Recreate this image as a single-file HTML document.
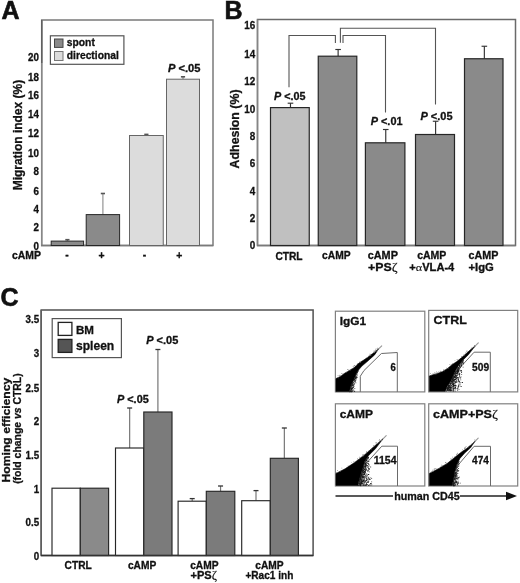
<!DOCTYPE html>
<html><head><meta charset="utf-8"><style>
html,body{margin:0;padding:0;background:#fff;}
svg{display:block;font-family:"Liberation Sans", sans-serif;will-change:transform;}
</style></head><body>
<svg width="520" height="583" viewBox="0 0 520 583">
<defs><filter id="soft" x="-10%" y="-10%" width="120%" height="120%"><feGaussianBlur stdDeviation="0.45"/></filter></defs>
<rect x="0" y="0" width="520" height="583" fill="#fff"/>
<text x="1.5" y="19" font-size="25" font-weight="bold" font-style="normal" text-anchor="start" fill="#111" stroke="#111" stroke-width="0.6" >A</text>
<rect x="41.7" y="20" width="171.3" height="225.5" fill="none" stroke="#7a7a7a" stroke-width="1.5"/>
<rect x="50.4" y="35.8" width="73.5" height="28.5" fill="#fff" stroke="#555" stroke-width="1.2"/>
<rect x="54.5" y="39" width="8.5" height="8.399999999999999" fill="#8a8a8a" stroke="#444" stroke-width="1"/>
<rect x="54.5" y="51.5" width="8.5" height="9.0" fill="#dcdcdc" stroke="#777" stroke-width="1"/>
<text x="66.8" y="46.2" font-size="10.3" font-weight="bold" font-style="normal" text-anchor="start" fill="#111" stroke="#111" stroke-width="0.3" >spont</text>
<text x="66.8" y="58.6" font-size="10.3" font-weight="bold" font-style="normal" text-anchor="start" fill="#111" stroke="#111" stroke-width="0.3" textLength="52" lengthAdjust="spacingAndGlyphs" >directional</text>
<text x="38.9" y="60.67" font-size="10.78" font-weight="bold" font-style="normal" text-anchor="end" fill="#111" stroke="#111" stroke-width="0.3" textLength="10.9" lengthAdjust="spacingAndGlyphs" >20</text>
<text x="38.9" y="81.17" font-size="10.78" font-weight="bold" font-style="normal" text-anchor="end" fill="#111" stroke="#111" stroke-width="0.3" textLength="10.9" lengthAdjust="spacingAndGlyphs" >18</text>
<text x="38.9" y="98.67" font-size="10.78" font-weight="bold" font-style="normal" text-anchor="end" fill="#111" stroke="#111" stroke-width="0.3" textLength="10.9" lengthAdjust="spacingAndGlyphs" >16</text>
<text x="38.9" y="118.07" font-size="10.78" font-weight="bold" font-style="normal" text-anchor="end" fill="#111" stroke="#111" stroke-width="0.3" textLength="10.9" lengthAdjust="spacingAndGlyphs" >14</text>
<text x="38.9" y="137.27" font-size="10.78" font-weight="bold" font-style="normal" text-anchor="end" fill="#111" stroke="#111" stroke-width="0.3" textLength="10.9" lengthAdjust="spacingAndGlyphs" >12</text>
<text x="38.9" y="157.07" font-size="10.78" font-weight="bold" font-style="normal" text-anchor="end" fill="#111" stroke="#111" stroke-width="0.3" textLength="10.9" lengthAdjust="spacingAndGlyphs" >10</text>
<text x="38.9" y="174.67" font-size="10.78" font-weight="bold" font-style="normal" text-anchor="end" fill="#111" stroke="#111" stroke-width="0.3" textLength="5.45" lengthAdjust="spacingAndGlyphs" >8</text>
<text x="38.9" y="194.87" font-size="10.78" font-weight="bold" font-style="normal" text-anchor="end" fill="#111" stroke="#111" stroke-width="0.3" textLength="5.45" lengthAdjust="spacingAndGlyphs" >6</text>
<text x="38.9" y="212.52" font-size="10.78" font-weight="bold" font-style="normal" text-anchor="end" fill="#111" stroke="#111" stroke-width="0.3" textLength="5.45" lengthAdjust="spacingAndGlyphs" >4</text>
<text x="38.9" y="231.27" font-size="10.78" font-weight="bold" font-style="normal" text-anchor="end" fill="#111" stroke="#111" stroke-width="0.3" textLength="5.45" lengthAdjust="spacingAndGlyphs" >2</text>
<text x="38.9" y="249.87" font-size="10.78" font-weight="bold" font-style="normal" text-anchor="end" fill="#111" stroke="#111" stroke-width="0.3" textLength="5.45" lengthAdjust="spacingAndGlyphs" >0</text>
<text transform="translate(21.7,135.1) rotate(-90)" x="0" y="0" font-size="12.8" font-weight="bold" text-anchor="middle" fill="#111" stroke="#111" stroke-width="0.3" textLength="110.5" lengthAdjust="spacingAndGlyphs">Migration index (%)</text>
<line x1="41.7" y1="20" x2="41.7" y2="245.5" stroke="#878787" stroke-width="1.4"/>
<line x1="41.7" y1="20" x2="41.7" y2="63" stroke="#606060" stroke-width="1.4"/>
<line x1="41" y1="245.5" x2="213" y2="245.5" stroke="#7a7a7a" stroke-width="1.4"/>
<line x1="67.4" y1="241.1" x2="67.4" y2="239.7" stroke="#8a8a8a" stroke-width="1.1"/>
<line x1="65.30000000000001" y1="239.7" x2="69.5" y2="239.7" stroke="#555" stroke-width="1.6"/>
<rect x="51.2" y="241.1" width="32.39999999999999" height="4.400000000000006" fill="#8a8a8a" stroke="#262626" stroke-width="1"/>
<line x1="102.9" y1="214.6" x2="102.9" y2="193.5" stroke="#8a8a8a" stroke-width="1.1"/>
<line x1="100.80000000000001" y1="193.5" x2="105.0" y2="193.5" stroke="#555" stroke-width="1.6"/>
<rect x="86.2" y="214.6" width="33.39999999999999" height="30.900000000000006" fill="#8a8a8a" stroke="#262626" stroke-width="1"/>
<line x1="146.375" y1="135.5" x2="146.375" y2="134.4" stroke="#8a8a8a" stroke-width="1.1"/>
<line x1="144.275" y1="134.4" x2="148.475" y2="134.4" stroke="#555" stroke-width="1.6"/>
<rect x="129.5" y="135.5" width="33.75" height="110.0" fill="#dcdcdc" stroke="#666" stroke-width="1"/>
<line x1="183.0" y1="79.2" x2="183.0" y2="76.8" stroke="#8a8a8a" stroke-width="1.1"/>
<line x1="180.9" y1="76.8" x2="185.1" y2="76.8" stroke="#555" stroke-width="1.6"/>
<rect x="166.5" y="79.2" width="33.0" height="166.3" fill="#dcdcdc" stroke="#666" stroke-width="1"/>
<text x="12" y="258.8" font-size="10.4" font-weight="bold" font-style="normal" text-anchor="start" fill="#111" stroke="#111" stroke-width="0.3" textLength="29" lengthAdjust="spacingAndGlyphs" >cAMP</text>
<text x="67.1" y="258.0" font-size="10.4" font-weight="bold" font-style="normal" text-anchor="middle" fill="#111" stroke="#111" stroke-width="0.3" >-</text>
<text x="101.5" y="258.8" font-size="10.4" font-weight="bold" font-style="normal" text-anchor="middle" fill="#111" stroke="#111" stroke-width="0.3" >+</text>
<text x="144.6" y="258.0" font-size="10.4" font-weight="bold" font-style="normal" text-anchor="middle" fill="#111" stroke="#111" stroke-width="0.3" >-</text>
<text x="179.2" y="258.8" font-size="10.4" font-weight="bold" font-style="normal" text-anchor="middle" fill="#111" stroke="#111" stroke-width="0.3" >+</text>
<text x="168" y="71.8" font-size="10.4" font-weight="bold" text-anchor="start" fill="#111" stroke="#111" stroke-width="0.3" textLength="32.5" lengthAdjust="spacingAndGlyphs"><tspan font-style="italic">P</tspan> &lt;.05</text>
<text x="224.5" y="18.75" font-size="25" font-weight="bold" font-style="normal" text-anchor="start" fill="#111" stroke="#111" stroke-width="0.6" >B</text>
<rect x="257.5" y="19.5" width="258.0" height="226.0" fill="none" stroke="#6a6a6a" stroke-width="1.5"/>
<text x="255.2" y="28.81" font-size="10.89" font-weight="bold" font-style="normal" text-anchor="end" fill="#111" stroke="#111" stroke-width="0.3" textLength="11.01" lengthAdjust="spacingAndGlyphs" >16</text>
<text x="255.2" y="57.56" font-size="10.89" font-weight="bold" font-style="normal" text-anchor="end" fill="#111" stroke="#111" stroke-width="0.3" textLength="11.01" lengthAdjust="spacingAndGlyphs" >14</text>
<text x="255.2" y="84.56" font-size="10.89" font-weight="bold" font-style="normal" text-anchor="end" fill="#111" stroke="#111" stroke-width="0.3" textLength="11.01" lengthAdjust="spacingAndGlyphs" >12</text>
<text x="255.2" y="112.51" font-size="10.89" font-weight="bold" font-style="normal" text-anchor="end" fill="#111" stroke="#111" stroke-width="0.3" textLength="11.01" lengthAdjust="spacingAndGlyphs" >10</text>
<text x="255.2" y="139.71" font-size="10.89" font-weight="bold" font-style="normal" text-anchor="end" fill="#111" stroke="#111" stroke-width="0.3" textLength="5.51" lengthAdjust="spacingAndGlyphs" >8</text>
<text x="255.2" y="167.06" font-size="10.89" font-weight="bold" font-style="normal" text-anchor="end" fill="#111" stroke="#111" stroke-width="0.3" textLength="5.51" lengthAdjust="spacingAndGlyphs" >6</text>
<text x="255.2" y="194.56" font-size="10.89" font-weight="bold" font-style="normal" text-anchor="end" fill="#111" stroke="#111" stroke-width="0.3" textLength="5.51" lengthAdjust="spacingAndGlyphs" >4</text>
<text x="255.2" y="221.81" font-size="10.89" font-weight="bold" font-style="normal" text-anchor="end" fill="#111" stroke="#111" stroke-width="0.3" textLength="5.51" lengthAdjust="spacingAndGlyphs" >2</text>
<text x="255.2" y="249.31" font-size="10.89" font-weight="bold" font-style="normal" text-anchor="end" fill="#111" stroke="#111" stroke-width="0.3" textLength="5.51" lengthAdjust="spacingAndGlyphs" >0</text>
<text transform="translate(239.4,128.9) rotate(-90)" x="0" y="0" font-size="13" font-weight="bold" text-anchor="middle" fill="#111" stroke="#111" stroke-width="0.3" textLength="79" lengthAdjust="spacingAndGlyphs">Adhesion (%)</text>
<line x1="257.5" y1="19.5" x2="257.5" y2="245.5" stroke="#858585" stroke-width="1.4"/>
<line x1="257" y1="245.5" x2="515.5" y2="245.5" stroke="#7a7a7a" stroke-width="1.4"/>
<line x1="290.475" y1="107.6" x2="290.475" y2="103.2" stroke="#333" stroke-width="1.15"/>
<line x1="287.675" y1="103.2" x2="293.27500000000003" y2="103.2" stroke="#333" stroke-width="1.15"/>
<rect x="270.5" y="107.6" width="38.75" height="137.9" fill="#c0c0c0" stroke="#262626" stroke-width="1.2"/>
<line x1="338.125" y1="56.2" x2="338.125" y2="49.5" stroke="#333" stroke-width="1.15"/>
<line x1="335.325" y1="49.5" x2="340.925" y2="49.5" stroke="#333" stroke-width="1.15"/>
<rect x="318.25" y="56.2" width="38.55000000000001" height="189.3" fill="#8a8a8a" stroke="#262626" stroke-width="1.2"/>
<line x1="385.75" y1="142.8" x2="385.75" y2="129.5" stroke="#333" stroke-width="1.15"/>
<line x1="382.95" y1="129.5" x2="388.55" y2="129.5" stroke="#333" stroke-width="1.15"/>
<rect x="365.4" y="142.8" width="39.5" height="102.69999999999999" fill="#8a8a8a" stroke="#262626" stroke-width="1.2"/>
<line x1="435.6" y1="134.5" x2="435.6" y2="121.25" stroke="#333" stroke-width="1.15"/>
<line x1="432.8" y1="121.25" x2="438.40000000000003" y2="121.25" stroke="#333" stroke-width="1.15"/>
<rect x="415.5" y="134.5" width="39.0" height="111.0" fill="#8a8a8a" stroke="#262626" stroke-width="1.2"/>
<line x1="484.35" y1="58.75" x2="484.35" y2="46.25" stroke="#333" stroke-width="1.15"/>
<line x1="481.55" y1="46.25" x2="487.15000000000003" y2="46.25" stroke="#333" stroke-width="1.15"/>
<rect x="464.5" y="58.75" width="38.5" height="186.75" fill="#8a8a8a" stroke="#262626" stroke-width="1.2"/>
<polyline points="289,87.3 289,35.5 335.4,35.5 335.4,43" fill="none" stroke="#555" stroke-width="1.1"/>
<polyline points="343,43 343,35.5 385.5,35.5 385.5,112.5" fill="none" stroke="#555" stroke-width="1.1"/>
<polyline points="340.4,42.8 340.4,28.2 435.5,28.2 435.5,104.5" fill="none" stroke="#555" stroke-width="1.1"/>
<text x="274" y="99.7" font-size="10.4" font-weight="bold" text-anchor="start" fill="#111" stroke="#111" stroke-width="0.3" textLength="31.4" lengthAdjust="spacingAndGlyphs"><tspan font-style="italic">P</tspan> &lt;.05</text>
<text x="370.75" y="125" font-size="10.4" font-weight="bold" text-anchor="start" fill="#111" stroke="#111" stroke-width="0.3" textLength="31.75" lengthAdjust="spacingAndGlyphs"><tspan font-style="italic">P</tspan> &lt;.01</text>
<text x="420.5" y="119.5" font-size="10.4" font-weight="bold" text-anchor="start" fill="#111" stroke="#111" stroke-width="0.3" textLength="32" lengthAdjust="spacingAndGlyphs"><tspan font-style="italic">P</tspan> &lt;.05</text>
<text x="289" y="260" font-size="10.2" font-weight="bold" font-style="normal" text-anchor="middle" fill="#111" stroke="#111" stroke-width="0.3" >CTRL</text>
<text x="336.3" y="259" font-size="10.2" font-weight="bold" font-style="normal" text-anchor="middle" fill="#111" stroke="#111" stroke-width="0.3" textLength="28.5" lengthAdjust="spacingAndGlyphs" >cAMP</text>
<text x="382.8" y="258.6" font-size="10.2" font-weight="bold" font-style="normal" text-anchor="middle" fill="#111" stroke="#111" stroke-width="0.3" textLength="30.2" lengthAdjust="spacingAndGlyphs" >cAMP</text>
<text x="382.8" y="270.7" font-size="10.2" font-weight="bold" font-style="normal" text-anchor="middle" fill="#111" stroke="#111" stroke-width="0.3" textLength="29.5" lengthAdjust="spacingAndGlyphs" >+PS<tspan font-family="Liberation Serif" font-weight="normal" stroke-width="0.12" font-size="1.15em">ζ</tspan></text>
<text x="431.8" y="258.6" font-size="10.2" font-weight="bold" font-style="normal" text-anchor="middle" fill="#111" stroke="#111" stroke-width="0.3" textLength="29.2" lengthAdjust="spacingAndGlyphs" >cAMP</text>
<text x="431.8" y="270.7" font-size="10.2" font-weight="bold" font-style="normal" text-anchor="middle" fill="#111" stroke="#111" stroke-width="0.3" textLength="45" lengthAdjust="spacingAndGlyphs" >+<tspan font-family="Liberation Serif" font-weight="normal" stroke-width="0.12" font-size="1.1em">α</tspan>VLA-4</text>
<text x="483.5" y="258.6" font-size="10.2" font-weight="bold" font-style="normal" text-anchor="middle" fill="#111" stroke="#111" stroke-width="0.3" textLength="29.8" lengthAdjust="spacingAndGlyphs" >cAMP</text>
<text x="481.2" y="270.7" font-size="10.2" font-weight="bold" font-style="normal" text-anchor="middle" fill="#111" stroke="#111" stroke-width="0.3" textLength="25.3" lengthAdjust="spacingAndGlyphs" >+IgG</text>
<text x="0.5" y="306.25" font-size="25" font-weight="bold" font-style="normal" text-anchor="start" fill="#111" stroke="#111" stroke-width="0.6" >C</text>
<rect x="41.2" y="310" width="271.90000000000003" height="245.5" fill="none" stroke="#505050" stroke-width="1.5"/>
<text x="39.1" y="323.27" font-size="10.78" font-weight="bold" font-style="normal" text-anchor="end" fill="#111" stroke="#111" stroke-width="0.3" textLength="13.62" lengthAdjust="spacingAndGlyphs" >3.5</text>
<text x="39.1" y="356.77" font-size="10.78" font-weight="bold" font-style="normal" text-anchor="end" fill="#111" stroke="#111" stroke-width="0.3" textLength="5.45" lengthAdjust="spacingAndGlyphs" >3</text>
<text x="39.1" y="391.77" font-size="10.78" font-weight="bold" font-style="normal" text-anchor="end" fill="#111" stroke="#111" stroke-width="0.3" textLength="13.62" lengthAdjust="spacingAndGlyphs" >2.5</text>
<text x="39.1" y="425.02" font-size="10.78" font-weight="bold" font-style="normal" text-anchor="end" fill="#111" stroke="#111" stroke-width="0.3" textLength="5.45" lengthAdjust="spacingAndGlyphs" >2</text>
<text x="39.1" y="458.77" font-size="10.78" font-weight="bold" font-style="normal" text-anchor="end" fill="#111" stroke="#111" stroke-width="0.3" textLength="13.62" lengthAdjust="spacingAndGlyphs" >1.5</text>
<text x="39.1" y="492.52" font-size="10.78" font-weight="bold" font-style="normal" text-anchor="end" fill="#111" stroke="#111" stroke-width="0.3" textLength="5.45" lengthAdjust="spacingAndGlyphs" >1</text>
<text x="39.1" y="526.27" font-size="10.78" font-weight="bold" font-style="normal" text-anchor="end" fill="#111" stroke="#111" stroke-width="0.3" textLength="13.62" lengthAdjust="spacingAndGlyphs" >0.5</text>
<text x="39.1" y="559.77" font-size="10.78" font-weight="bold" font-style="normal" text-anchor="end" fill="#111" stroke="#111" stroke-width="0.3" textLength="5.45" lengthAdjust="spacingAndGlyphs" >0</text>
<text transform="translate(10.4,430.1) rotate(-90)" x="0" y="0" font-size="11.8" font-weight="bold" text-anchor="middle" fill="#111" stroke="#111" stroke-width="0.3" textLength="104.7" lengthAdjust="spacingAndGlyphs">Homing efficiency</text>
<text transform="translate(21,428.6) rotate(-90)" x="0" y="0" font-size="10.4" font-weight="bold" text-anchor="middle" fill="#111" stroke="#111" stroke-width="0.3" textLength="110.5" lengthAdjust="spacingAndGlyphs">(fold change <tspan font-style="italic">vs</tspan> CTRL)</text>
<rect x="52.2" y="318.6" width="69.2" height="39.0" fill="#fff" stroke="#555" stroke-width="1.2"/>
<rect x="58.2" y="322.4" width="13.700000000000003" height="13.0" fill="#fff" stroke="#222" stroke-width="1.3"/>
<rect x="58.2" y="339.4" width="13.700000000000003" height="13.0" fill="#555" stroke="#222" stroke-width="1.3"/>
<text x="76" y="333.8" font-size="11.5" font-weight="bold" font-style="normal" text-anchor="start" fill="#111" stroke="#111" stroke-width="0.3" textLength="18" lengthAdjust="spacingAndGlyphs" >BM</text>
<text x="76" y="350.4" font-size="12" font-weight="bold" font-style="normal" text-anchor="start" fill="#111" stroke="#111" stroke-width="0.3" textLength="38.2" lengthAdjust="spacingAndGlyphs" >spleen</text>
<rect x="52" y="488.2" width="28.299999999999997" height="67.30000000000001" fill="#ffffff" stroke="#262626" stroke-width="1.15"/>
<rect x="80.3" y="488.2" width="28.299999999999997" height="67.30000000000001" fill="#8a8a8a" stroke="#262626" stroke-width="1.15"/>
<line x1="129.65" y1="448" x2="129.65" y2="408" stroke="#777" stroke-width="1.2"/>
<line x1="127.15" y1="408" x2="132.15" y2="408" stroke="#333" stroke-width="1.3"/>
<rect x="115.5" y="448" width="28.30000000000001" height="107.5" fill="#ffffff" stroke="#262626" stroke-width="1.15"/>
<line x1="157.9" y1="412" x2="157.9" y2="349.5" stroke="#777" stroke-width="1.2"/>
<line x1="155.4" y1="349.5" x2="160.4" y2="349.5" stroke="#333" stroke-width="1.3"/>
<rect x="143.8" y="412" width="28.19999999999999" height="143.5" fill="#7b7b7b" stroke="#262626" stroke-width="1.15"/>
<line x1="192.2" y1="501.2" x2="192.2" y2="498.6" stroke="#777" stroke-width="1.2"/>
<line x1="189.7" y1="498.6" x2="194.7" y2="498.6" stroke="#333" stroke-width="1.3"/>
<rect x="178.1" y="501.2" width="28.200000000000017" height="54.30000000000001" fill="#ffffff" stroke="#262626" stroke-width="1.15"/>
<line x1="220.55" y1="491.3" x2="220.55" y2="486" stroke="#777" stroke-width="1.2"/>
<line x1="218.05" y1="486" x2="223.05" y2="486" stroke="#333" stroke-width="1.3"/>
<rect x="206.3" y="491.3" width="28.5" height="64.19999999999999" fill="#7b7b7b" stroke="#262626" stroke-width="1.15"/>
<line x1="256.0" y1="500.7" x2="256.0" y2="490.6" stroke="#777" stroke-width="1.2"/>
<line x1="253.5" y1="490.6" x2="258.5" y2="490.6" stroke="#333" stroke-width="1.3"/>
<rect x="241.7" y="500.7" width="28.600000000000023" height="54.80000000000001" fill="#ffffff" stroke="#262626" stroke-width="1.15"/>
<line x1="284.35" y1="458.3" x2="284.35" y2="428" stroke="#777" stroke-width="1.2"/>
<line x1="281.85" y1="428" x2="286.85" y2="428" stroke="#333" stroke-width="1.3"/>
<rect x="270.3" y="458.3" width="28.099999999999966" height="97.19999999999999" fill="#7b7b7b" stroke="#262626" stroke-width="1.15"/>
<line x1="41.2" y1="310" x2="41.2" y2="555.5" stroke="#606060" stroke-width="1.5"/>
<line x1="41" y1="555.5" x2="313.1" y2="555.5" stroke="#333" stroke-width="1.5"/>
<text x="117" y="402.5" font-size="10.4" font-weight="bold" text-anchor="start" fill="#111" stroke="#111" stroke-width="0.3" textLength="31.75" lengthAdjust="spacingAndGlyphs"><tspan font-style="italic">P</tspan> &lt;.05</text>
<text x="146.25" y="344.25" font-size="10.4" font-weight="bold" text-anchor="start" fill="#111" stroke="#111" stroke-width="0.3" textLength="32" lengthAdjust="spacingAndGlyphs"><tspan font-style="italic">P</tspan> &lt;.05</text>
<text x="78.2" y="569.3" font-size="10.2" font-weight="bold" font-style="normal" text-anchor="middle" fill="#111" stroke="#111" stroke-width="0.3" >CTRL</text>
<text x="142.1" y="569.1" font-size="10.2" font-weight="bold" font-style="normal" text-anchor="middle" fill="#111" stroke="#111" stroke-width="0.3" >cAMP</text>
<text x="204.3" y="568.6" font-size="10.2" font-weight="bold" font-style="normal" text-anchor="middle" fill="#111" stroke="#111" stroke-width="0.3" >cAMP</text>
<text x="203.7" y="579.3" font-size="10.2" font-weight="bold" font-style="normal" text-anchor="middle" fill="#111" stroke="#111" stroke-width="0.3" textLength="26.5" lengthAdjust="spacingAndGlyphs" >+PS<tspan font-family="Liberation Serif" font-weight="normal" stroke-width="0.12" font-size="1.15em">ζ</tspan></text>
<text x="269.4" y="568.6" font-size="10.2" font-weight="bold" font-style="normal" text-anchor="middle" fill="#111" stroke="#111" stroke-width="0.3" >cAMP</text>
<text x="269.4" y="579.3" font-size="10.2" font-weight="bold" font-style="normal" text-anchor="middle" fill="#111" stroke="#111" stroke-width="0.3" textLength="48" lengthAdjust="spacingAndGlyphs" >+Rac1 inh</text>
<rect x="335.4" y="311.2" width="89.40000000000003" height="80.69999999999999" fill="#fff" stroke="#808080" stroke-width="1.2"/>
<text x="339.7" y="324.5" font-size="11.2" font-weight="bold" font-style="normal" text-anchor="start" fill="#111" stroke="#111" stroke-width="0.3" textLength="26.4" lengthAdjust="spacingAndGlyphs" >IgG1</text>
<polyline points="360.3,391.9 360.3,376.2 364,370.5 381.4,353.5 397.3,352.5 397.3,391.9" fill="none" stroke="#6a6a6a" stroke-width="1"/>
<polygon points="336.0,391.6 336.0,378.6 340.8,376.2 344.6,373.3 349.4,370.4 354.2,367.6 359.0,363.0 363.8,360.0 368.7,356.6 374.4,352.3 378.5,349.0 374.6,354.9 366.7,362.0 361.9,366.1 358.1,370.5 355.7,375.0 353.8,380.0 351.3,384.8 349.4,391.6" fill="#050505" stroke="#050505" stroke-width="0.6" stroke-linejoin="round" filter="url(#soft)"/>
<path d="M357.9 370.5h0.8v0.8h-0.8zM357.7 370.3h0.8v0.8h-0.8zM357.3 370.8h0.8v0.8h-0.8zM357.7 370.9h0.8v0.8h-0.8zM357.0 372.1h0.8v0.8h-0.8zM356.9 371.8h0.8v0.8h-0.8zM356.6 372.6h0.8v0.8h-0.8zM356.5 372.6h0.8v0.8h-0.8zM356.9 373.8h0.8v0.8h-0.8zM355.8 374.6h0.8v0.8h-0.8zM355.9 374.0h0.8v0.8h-0.8zM356.9 375.4h0.8v0.8h-0.8zM355.2 374.9h0.8v0.8h-0.8zM355.4 375.4h0.8v0.8h-0.8zM355.2 375.9h0.8v0.8h-0.8zM356.0 376.3h0.8v0.8h-0.8zM355.3 375.8h0.8v0.8h-0.8zM355.3 376.7h0.8v0.8h-0.8zM356.7 377.1h0.8v0.8h-0.8zM355.8 376.9h0.8v0.8h-0.8zM354.4 377.4h0.8v0.8h-0.8zM354.7 377.2h0.8v0.8h-0.8zM354.2 377.3h0.8v0.8h-0.8zM355.4 377.9h0.8v0.8h-0.8zM356.3 377.4h0.8v0.8h-0.8zM355.4 377.3h0.8v0.8h-0.8zM354.5 377.5h0.8v0.8h-0.8zM354.5 378.8h0.8v0.8h-0.8zM355.8 378.4h0.8v0.8h-0.8zM354.0 378.8h0.8v0.8h-0.8zM354.8 378.1h0.8v0.8h-0.8zM353.7 379.0h0.8v0.8h-0.8zM354.4 379.0h0.8v0.8h-0.8zM354.4 379.5h0.8v0.8h-0.8zM353.9 379.5h0.8v0.8h-0.8zM355.2 380.2h0.8v0.8h-0.8zM353.8 380.3h0.8v0.8h-0.8zM355.5 379.6h0.8v0.8h-0.8zM353.9 380.6h0.8v0.8h-0.8zM354.7 381.1h0.8v0.8h-0.8zM354.4 380.9h0.8v0.8h-0.8zM352.9 380.5h0.8v0.8h-0.8zM352.9 380.5h0.8v0.8h-0.8zM355.0 381.4h0.8v0.8h-0.8zM352.6 382.1h0.8v0.8h-0.8zM353.2 382.5h0.8v0.8h-0.8zM352.8 382.5h0.8v0.8h-0.8zM353.6 382.3h0.8v0.8h-0.8zM355.5 382.4h0.8v0.8h-0.8zM353.8 383.1h0.8v0.8h-0.8zM352.1 382.8h0.8v0.8h-0.8zM352.3 383.5h0.8v0.8h-0.8zM352.1 383.4h0.8v0.8h-0.8zM353.7 383.6h0.8v0.8h-0.8zM353.6 384.0h0.8v0.8h-0.8zM351.9 383.8h0.8v0.8h-0.8zM351.8 383.6h0.8v0.8h-0.8zM352.3 383.8h0.8v0.8h-0.8zM353.8 383.9h0.8v0.8h-0.8zM351.3 383.6h0.8v0.8h-0.8zM352.2 384.3h0.8v0.8h-0.8zM352.7 384.5h0.8v0.8h-0.8zM351.2 384.6h0.8v0.8h-0.8zM351.7 385.1h0.8v0.8h-0.8zM352.3 384.6h0.8v0.8h-0.8zM353.3 384.8h0.8v0.8h-0.8zM352.5 384.4h0.8v0.8h-0.8zM353.5 384.8h0.8v0.8h-0.8zM350.8 384.5h0.8v0.8h-0.8zM352.8 385.2h0.8v0.8h-0.8zM352.3 385.7h0.8v0.8h-0.8zM351.4 385.7h0.8v0.8h-0.8zM350.8 385.9h0.8v0.8h-0.8zM350.8 385.5h0.8v0.8h-0.8zM353.2 386.6h0.8v0.8h-0.8zM350.7 386.2h0.8v0.8h-0.8zM350.8 386.6h0.8v0.8h-0.8zM350.8 386.2h0.8v0.8h-0.8zM353.6 386.0h0.8v0.8h-0.8zM351.9 387.2h0.8v0.8h-0.8zM352.9 387.5h0.8v0.8h-0.8zM351.7 387.6h0.8v0.8h-0.8zM351.4 386.9h0.8v0.8h-0.8zM350.3 387.2h0.8v0.8h-0.8zM352.8 386.9h0.8v0.8h-0.8zM352.2 387.5h0.8v0.8h-0.8zM349.9 388.3h0.8v0.8h-0.8zM351.7 387.9h0.8v0.8h-0.8zM352.1 387.8h0.8v0.8h-0.8zM350.2 388.3h0.8v0.8h-0.8zM351.4 388.0h0.8v0.8h-0.8zM351.1 388.4h0.8v0.8h-0.8zM354.4 388.2h0.8v0.8h-0.8zM350.7 387.9h0.8v0.8h-0.8zM350.7 388.6h0.8v0.8h-0.8zM350.6 388.5h0.8v0.8h-0.8zM351.9 388.6h0.8v0.8h-0.8zM351.3 389.1h0.8v0.8h-0.8zM352.1 388.4h0.8v0.8h-0.8zM350.5 388.9h0.8v0.8h-0.8zM351.4 388.7h0.8v0.8h-0.8zM349.6 389.8h0.8v0.8h-0.8zM353.3 389.5h0.8v0.8h-0.8zM351.1 389.3h0.8v0.8h-0.8zM349.7 389.4h0.8v0.8h-0.8zM351.4 389.4h0.8v0.8h-0.8zM350.2 389.6h0.8v0.8h-0.8zM350.9 389.2h0.8v0.8h-0.8zM351.4 390.0h0.8v0.8h-0.8zM352.4 390.2h0.8v0.8h-0.8zM351.3 390.4h0.8v0.8h-0.8zM349.5 390.3h0.8v0.8h-0.8zM352.6 390.8h0.8v0.8h-0.8zM350.8 390.6h0.8v0.8h-0.8zM352.6 390.2h0.8v0.8h-0.8zM351.9 390.8h0.8v0.8h-0.8zM350.2 390.0h0.8v0.8h-0.8zM351.3 391.5h0.8v0.8h-0.8zM354.2 391.3h0.8v0.8h-0.8zM351.6 391.1h0.8v0.8h-0.8zM350.2 391.0h0.8v0.8h-0.8zM350.4 391.5h0.8v0.8h-0.8zM349.4 391.1h0.8v0.8h-0.8zM349.2 391.4h0.8v0.8h-0.8zM354.3 390.8h0.8v0.8h-0.8z" fill="#1a1a1a"/>
<line x1="377.5" y1="350.0" x2="381.7" y2="345.8" stroke="#555" stroke-width="1.1" stroke-linecap="round" opacity="0.6"/>
<path d="M359.5 360.9h0.7v0.7h-0.7zM360.1 362.3h0.7v0.7h-0.7zM374.7 350.1h0.7v0.7h-0.7zM348.0 369.8h0.7v0.7h-0.7zM375.3 351.0h0.7v0.7h-0.7zM341.0 373.3h0.7v0.7h-0.7zM337.7 375.0h0.7v0.7h-0.7zM370.6 354.8h0.7v0.7h-0.7zM375.5 349.0h0.7v0.7h-0.7zM347.2 369.1h0.7v0.7h-0.7zM373.5 350.8h0.7v0.7h-0.7zM342.3 374.1h0.7v0.7h-0.7zM374.1 352.0h0.7v0.7h-0.7zM367.2 357.3h0.7v0.7h-0.7zM347.3 371.3h0.7v0.7h-0.7zM337.8 377.6h0.7v0.7h-0.7zM376.1 350.9h0.7v0.7h-0.7zM353.5 365.9h0.7v0.7h-0.7zM369.9 354.4h0.7v0.7h-0.7zM357.3 363.3h0.7v0.7h-0.7zM371.9 353.0h0.7v0.7h-0.7zM349.9 369.8h0.7v0.7h-0.7zM352.5 368.3h0.7v0.7h-0.7zM377.4 347.7h0.7v0.7h-0.7zM353.8 365.2h0.7v0.7h-0.7zM369.6 353.7h0.7v0.7h-0.7zM339.2 375.0h0.7v0.7h-0.7zM368.7 355.6h0.7v0.7h-0.7zM354.5 365.3h0.7v0.7h-0.7zM347.5 369.1h0.7v0.7h-0.7zM375.7 348.5h0.7v0.7h-0.7zM356.2 364.8h0.7v0.7h-0.7zM340.3 375.4h0.7v0.7h-0.7zM377.1 350.0h0.7v0.7h-0.7zM373.0 351.9h0.7v0.7h-0.7zM339.6 374.7h0.7v0.7h-0.7zM369.9 355.1h0.7v0.7h-0.7zM345.9 372.4h0.7v0.7h-0.7zM342.6 373.2h0.7v0.7h-0.7zM352.7 366.4h0.7v0.7h-0.7zM377.9 348.5h0.7v0.7h-0.7zM373.8 352.4h0.7v0.7h-0.7zM374.4 351.2h0.7v0.7h-0.7zM377.6 348.6h0.7v0.7h-0.7zM375.3 350.4h0.7v0.7h-0.7z" fill="#777"/>
<text x="395.9" y="371" font-size="10.6" font-weight="bold" font-style="normal" text-anchor="end" fill="#111" stroke="#111" stroke-width="0.3" textLength="5.3" lengthAdjust="spacingAndGlyphs" >6</text>
<rect x="428.7" y="310.4" width="89.00000000000006" height="81.5" fill="#fff" stroke="#808080" stroke-width="1.2"/>
<text x="433.6" y="323.7" font-size="11.2" font-weight="bold" font-style="normal" text-anchor="start" fill="#111" stroke="#111" stroke-width="0.3" textLength="33.2" lengthAdjust="spacingAndGlyphs" >CTRL</text>
<polyline points="453.3,391.9 453.3,375 474.1,352.2 490.3,352.2 490.3,391.9" fill="none" stroke="#6a6a6a" stroke-width="1"/>
<polygon points="429.4,391.3 429.4,375.9 433.8,374.4 437.6,373.5 442.4,371.6 447.2,368.7 452.0,364.8 456.8,361.5 461.7,357.6 466.5,353.3 471.3,349.0 475.1,346.1 468.4,354.7 463.6,359.5 458.8,365.2 455.9,370.0 453.5,374.9 451.1,380.7 447.2,386.5 445.3,391.3" fill="#050505" stroke="#050505" stroke-width="0.6" stroke-linejoin="round" filter="url(#soft)"/>
<path d="M462.6 360.1h0.8v0.8h-0.8zM462.8 360.4h0.8v0.8h-0.8zM462.9 359.8h0.8v0.8h-0.8zM462.1 361.0h0.8v0.8h-0.8zM463.0 360.7h0.8v0.8h-0.8zM461.8 361.9h0.8v0.8h-0.8zM461.4 361.6h0.8v0.8h-0.8zM462.6 362.0h0.8v0.8h-0.8zM462.0 362.0h0.8v0.8h-0.8zM462.3 361.6h0.8v0.8h-0.8zM462.6 362.5h0.8v0.8h-0.8zM461.0 362.8h0.8v0.8h-0.8zM463.1 362.8h0.8v0.8h-0.8zM462.4 362.9h0.8v0.8h-0.8zM461.3 362.2h0.8v0.8h-0.8zM460.0 363.5h0.8v0.8h-0.8zM460.7 363.4h0.8v0.8h-0.8zM462.7 363.6h0.8v0.8h-0.8zM462.7 363.0h0.8v0.8h-0.8zM461.0 363.2h0.8v0.8h-0.8zM460.4 363.6h0.8v0.8h-0.8zM460.5 363.5h0.8v0.8h-0.8zM460.8 364.0h0.8v0.8h-0.8zM459.5 364.5h0.8v0.8h-0.8zM459.5 364.1h0.8v0.8h-0.8zM458.7 365.3h0.8v0.8h-0.8zM458.7 364.7h0.8v0.8h-0.8zM459.2 365.3h0.8v0.8h-0.8zM461.1 364.9h0.8v0.8h-0.8zM461.2 364.6h0.8v0.8h-0.8zM459.2 364.8h0.8v0.8h-0.8zM459.6 365.4h0.8v0.8h-0.8zM460.6 365.5h0.8v0.8h-0.8zM459.2 365.6h0.8v0.8h-0.8zM461.2 365.6h0.8v0.8h-0.8zM458.9 366.0h0.8v0.8h-0.8zM460.4 365.6h0.8v0.8h-0.8zM458.2 366.9h0.8v0.8h-0.8zM459.5 366.6h0.8v0.8h-0.8zM462.7 366.7h0.8v0.8h-0.8zM459.3 366.5h0.8v0.8h-0.8zM459.5 367.5h0.8v0.8h-0.8zM459.9 367.1h0.8v0.8h-0.8zM458.0 367.4h0.8v0.8h-0.8zM458.3 367.6h0.8v0.8h-0.8zM457.1 367.4h0.8v0.8h-0.8zM459.5 367.4h0.8v0.8h-0.8zM457.7 367.2h0.8v0.8h-0.8zM459.4 367.9h0.8v0.8h-0.8zM457.8 368.2h0.8v0.8h-0.8zM456.8 368.3h0.8v0.8h-0.8zM456.6 368.4h0.8v0.8h-0.8zM457.9 368.1h0.8v0.8h-0.8zM457.0 369.1h0.8v0.8h-0.8zM456.8 368.6h0.8v0.8h-0.8zM456.5 369.1h0.8v0.8h-0.8zM458.7 368.7h0.8v0.8h-0.8zM457.9 369.2h0.8v0.8h-0.8zM457.3 370.0h0.8v0.8h-0.8zM457.5 369.6h0.8v0.8h-0.8zM456.5 369.6h0.8v0.8h-0.8zM458.7 369.4h0.8v0.8h-0.8zM457.5 369.5h0.8v0.8h-0.8zM457.4 369.8h0.8v0.8h-0.8zM458.2 369.9h0.8v0.8h-0.8zM456.3 370.0h0.8v0.8h-0.8zM456.6 370.0h0.8v0.8h-0.8zM459.5 369.7h0.8v0.8h-0.8zM456.6 369.5h0.8v0.8h-0.8zM458.4 369.8h0.8v0.8h-0.8zM456.2 370.5h0.8v0.8h-0.8zM458.3 370.2h0.8v0.8h-0.8zM460.6 370.5h0.8v0.8h-0.8zM457.6 370.3h0.8v0.8h-0.8zM457.0 370.7h0.8v0.8h-0.8zM457.5 370.8h0.8v0.8h-0.8zM457.4 370.6h0.8v0.8h-0.8zM460.3 370.2h0.8v0.8h-0.8zM461.0 370.1h0.8v0.8h-0.8zM456.5 370.3h0.8v0.8h-0.8zM458.3 370.3h0.8v0.8h-0.8zM460.4 370.8h0.8v0.8h-0.8zM456.9 371.4h0.8v0.8h-0.8zM457.7 371.6h0.8v0.8h-0.8zM455.1 371.4h0.8v0.8h-0.8zM455.2 371.0h0.8v0.8h-0.8zM455.5 371.2h0.8v0.8h-0.8zM457.2 371.7h0.8v0.8h-0.8zM458.6 371.5h0.8v0.8h-0.8zM461.3 371.5h0.8v0.8h-0.8zM456.9 371.2h0.8v0.8h-0.8zM458.3 371.1h0.8v0.8h-0.8zM455.9 371.4h0.8v0.8h-0.8zM456.8 371.3h0.8v0.8h-0.8zM457.5 372.4h0.8v0.8h-0.8zM455.6 372.0h0.8v0.8h-0.8zM457.0 371.9h0.8v0.8h-0.8zM454.9 371.9h0.8v0.8h-0.8zM455.4 372.1h0.8v0.8h-0.8zM457.6 371.8h0.8v0.8h-0.8zM461.1 372.3h0.8v0.8h-0.8zM455.3 372.0h0.8v0.8h-0.8zM456.1 371.7h0.8v0.8h-0.8zM456.6 371.7h0.8v0.8h-0.8zM457.0 372.2h0.8v0.8h-0.8zM457.0 373.2h0.8v0.8h-0.8zM457.0 372.9h0.8v0.8h-0.8zM456.2 373.0h0.8v0.8h-0.8zM458.6 372.7h0.8v0.8h-0.8zM459.4 373.1h0.8v0.8h-0.8zM455.5 373.3h0.8v0.8h-0.8zM454.8 372.9h0.8v0.8h-0.8zM454.0 373.2h0.8v0.8h-0.8zM457.1 373.0h0.8v0.8h-0.8zM455.5 372.9h0.8v0.8h-0.8zM455.8 372.8h0.8v0.8h-0.8zM454.5 373.0h0.8v0.8h-0.8zM453.9 373.8h0.8v0.8h-0.8zM457.9 373.8h0.8v0.8h-0.8zM454.7 374.0h0.8v0.8h-0.8zM458.9 374.0h0.8v0.8h-0.8zM456.1 373.7h0.8v0.8h-0.8zM456.0 373.7h0.8v0.8h-0.8zM455.8 373.4h0.8v0.8h-0.8zM454.4 373.4h0.8v0.8h-0.8zM457.4 374.1h0.8v0.8h-0.8zM454.1 373.6h0.8v0.8h-0.8zM453.7 373.5h0.8v0.8h-0.8zM453.6 374.2h0.8v0.8h-0.8zM455.1 374.8h0.8v0.8h-0.8zM459.1 374.1h0.8v0.8h-0.8zM455.1 374.3h0.8v0.8h-0.8zM453.3 374.2h0.8v0.8h-0.8zM461.3 374.2h0.8v0.8h-0.8zM459.4 374.4h0.8v0.8h-0.8zM459.1 374.2h0.8v0.8h-0.8zM456.5 375.4h0.8v0.8h-0.8zM456.3 375.3h0.8v0.8h-0.8zM454.4 375.1h0.8v0.8h-0.8zM455.7 375.1h0.8v0.8h-0.8zM453.2 375.5h0.8v0.8h-0.8zM456.6 375.5h0.8v0.8h-0.8zM457.1 375.2h0.8v0.8h-0.8zM455.4 375.2h0.8v0.8h-0.8zM454.3 375.6h0.8v0.8h-0.8zM454.6 375.1h0.8v0.8h-0.8zM458.9 375.0h0.8v0.8h-0.8zM453.2 376.4h0.8v0.8h-0.8zM455.5 375.7h0.8v0.8h-0.8zM454.3 376.3h0.8v0.8h-0.8zM454.9 375.9h0.8v0.8h-0.8zM459.0 376.3h0.8v0.8h-0.8zM454.0 376.1h0.8v0.8h-0.8zM453.1 375.7h0.8v0.8h-0.8zM455.3 375.7h0.8v0.8h-0.8zM456.1 375.8h0.8v0.8h-0.8zM453.5 376.0h0.8v0.8h-0.8zM457.2 376.9h0.8v0.8h-0.8zM452.3 377.0h0.8v0.8h-0.8zM460.6 376.5h0.8v0.8h-0.8zM453.7 376.9h0.8v0.8h-0.8zM458.4 377.3h0.8v0.8h-0.8zM456.3 376.6h0.8v0.8h-0.8zM454.0 377.1h0.8v0.8h-0.8zM457.3 377.2h0.8v0.8h-0.8zM453.4 376.6h0.8v0.8h-0.8zM455.0 376.8h0.8v0.8h-0.8zM454.8 377.1h0.8v0.8h-0.8zM458.5 377.2h0.8v0.8h-0.8zM455.3 376.9h0.8v0.8h-0.8zM452.1 378.1h0.8v0.8h-0.8zM452.0 377.4h0.8v0.8h-0.8zM460.3 377.4h0.8v0.8h-0.8zM459.7 377.6h0.8v0.8h-0.8zM452.2 377.9h0.8v0.8h-0.8zM459.8 377.7h0.8v0.8h-0.8zM454.5 377.4h0.8v0.8h-0.8zM453.2 377.4h0.8v0.8h-0.8zM456.8 377.8h0.8v0.8h-0.8zM457.6 377.6h0.8v0.8h-0.8zM455.9 378.1h0.8v0.8h-0.8zM455.0 377.5h0.8v0.8h-0.8zM452.6 377.7h0.8v0.8h-0.8zM456.0 377.9h0.8v0.8h-0.8zM455.5 378.1h0.8v0.8h-0.8zM456.3 377.6h0.8v0.8h-0.8zM451.9 378.0h0.8v0.8h-0.8zM456.0 378.3h0.8v0.8h-0.8zM452.1 378.4h0.8v0.8h-0.8zM451.5 378.8h0.8v0.8h-0.8zM458.0 378.6h0.8v0.8h-0.8zM454.1 378.8h0.8v0.8h-0.8zM454.3 378.8h0.8v0.8h-0.8zM453.3 378.2h0.8v0.8h-0.8zM452.6 378.9h0.8v0.8h-0.8zM457.5 379.2h0.8v0.8h-0.8zM455.3 378.9h0.8v0.8h-0.8zM453.6 378.9h0.8v0.8h-0.8zM454.5 379.1h0.8v0.8h-0.8zM453.6 379.5h0.8v0.8h-0.8zM451.7 379.2h0.8v0.8h-0.8zM455.2 379.5h0.8v0.8h-0.8zM460.4 379.4h0.8v0.8h-0.8zM456.1 379.4h0.8v0.8h-0.8zM453.9 379.6h0.8v0.8h-0.8zM452.4 379.5h0.8v0.8h-0.8zM458.1 379.4h0.8v0.8h-0.8zM451.8 379.2h0.8v0.8h-0.8zM452.7 380.1h0.8v0.8h-0.8zM454.3 380.0h0.8v0.8h-0.8zM456.1 379.9h0.8v0.8h-0.8zM453.4 380.1h0.8v0.8h-0.8zM457.8 380.0h0.8v0.8h-0.8zM451.6 380.2h0.8v0.8h-0.8zM451.5 379.8h0.8v0.8h-0.8zM458.3 380.4h0.8v0.8h-0.8zM453.5 379.8h0.8v0.8h-0.8zM451.6 379.7h0.8v0.8h-0.8zM453.5 380.8h0.8v0.8h-0.8zM457.7 381.2h0.8v0.8h-0.8zM450.9 381.0h0.8v0.8h-0.8zM453.3 380.6h0.8v0.8h-0.8zM451.7 381.2h0.8v0.8h-0.8zM451.6 380.7h0.8v0.8h-0.8zM450.9 381.3h0.8v0.8h-0.8zM458.9 380.8h0.8v0.8h-0.8zM456.3 381.1h0.8v0.8h-0.8zM454.3 380.9h0.8v0.8h-0.8zM451.7 381.1h0.8v0.8h-0.8zM450.9 380.6h0.8v0.8h-0.8zM458.8 381.0h0.8v0.8h-0.8zM455.0 381.0h0.8v0.8h-0.8zM452.6 381.3h0.8v0.8h-0.8zM452.4 381.2h0.8v0.8h-0.8zM452.0 380.9h0.8v0.8h-0.8zM452.0 380.6h0.8v0.8h-0.8zM454.8 381.6h0.8v0.8h-0.8zM452.6 381.5h0.8v0.8h-0.8zM461.7 382.1h0.8v0.8h-0.8zM452.0 381.3h0.8v0.8h-0.8zM451.0 381.5h0.8v0.8h-0.8zM459.3 381.5h0.8v0.8h-0.8zM450.5 381.9h0.8v0.8h-0.8zM462.1 382.1h0.8v0.8h-0.8zM451.1 381.9h0.8v0.8h-0.8zM458.9 381.6h0.8v0.8h-0.8zM451.8 381.5h0.8v0.8h-0.8zM452.6 382.0h0.8v0.8h-0.8zM452.1 382.3h0.8v0.8h-0.8zM454.9 382.6h0.8v0.8h-0.8zM460.2 382.5h0.8v0.8h-0.8zM449.6 382.7h0.8v0.8h-0.8zM455.6 382.3h0.8v0.8h-0.8zM450.6 382.7h0.8v0.8h-0.8zM458.7 382.8h0.8v0.8h-0.8zM451.9 382.9h0.8v0.8h-0.8zM454.3 382.8h0.8v0.8h-0.8zM456.5 382.2h0.8v0.8h-0.8zM454.2 382.5h0.8v0.8h-0.8zM450.4 382.5h0.8v0.8h-0.8zM449.3 383.0h0.8v0.8h-0.8zM450.9 383.4h0.8v0.8h-0.8zM449.5 383.5h0.8v0.8h-0.8zM452.7 383.4h0.8v0.8h-0.8zM453.7 383.3h0.8v0.8h-0.8zM453.2 383.1h0.8v0.8h-0.8zM451.6 383.3h0.8v0.8h-0.8zM450.4 383.2h0.8v0.8h-0.8zM452.6 383.6h0.8v0.8h-0.8zM453.2 383.5h0.8v0.8h-0.8zM452.7 383.6h0.8v0.8h-0.8zM459.3 384.4h0.8v0.8h-0.8zM451.8 384.1h0.8v0.8h-0.8zM449.9 384.2h0.8v0.8h-0.8zM453.3 384.4h0.8v0.8h-0.8zM450.2 383.8h0.8v0.8h-0.8zM449.3 384.4h0.8v0.8h-0.8zM452.2 383.9h0.8v0.8h-0.8zM449.6 384.5h0.8v0.8h-0.8zM458.3 384.4h0.8v0.8h-0.8zM452.9 384.2h0.8v0.8h-0.8zM450.3 383.7h0.8v0.8h-0.8zM459.8 384.4h0.8v0.8h-0.8zM449.9 384.2h0.8v0.8h-0.8zM453.2 384.2h0.8v0.8h-0.8zM448.2 384.5h0.8v0.8h-0.8zM448.7 385.1h0.8v0.8h-0.8zM454.7 384.9h0.8v0.8h-0.8zM454.4 384.7h0.8v0.8h-0.8zM453.6 384.7h0.8v0.8h-0.8zM454.2 385.1h0.8v0.8h-0.8zM450.6 384.9h0.8v0.8h-0.8zM458.2 384.7h0.8v0.8h-0.8zM448.0 385.1h0.8v0.8h-0.8zM452.9 385.0h0.8v0.8h-0.8zM448.4 384.8h0.8v0.8h-0.8zM454.4 384.6h0.8v0.8h-0.8zM449.6 385.0h0.8v0.8h-0.8zM455.2 384.7h0.8v0.8h-0.8zM448.1 385.1h0.8v0.8h-0.8zM448.0 385.0h0.8v0.8h-0.8zM453.3 385.2h0.8v0.8h-0.8zM455.2 385.6h0.8v0.8h-0.8zM450.3 386.0h0.8v0.8h-0.8zM452.9 385.8h0.8v0.8h-0.8zM449.1 385.7h0.8v0.8h-0.8zM448.2 385.3h0.8v0.8h-0.8zM456.1 385.5h0.8v0.8h-0.8zM458.3 385.4h0.8v0.8h-0.8zM447.8 385.5h0.8v0.8h-0.8zM451.1 385.3h0.8v0.8h-0.8zM449.7 385.4h0.8v0.8h-0.8zM460.9 386.0h0.8v0.8h-0.8zM448.4 385.7h0.8v0.8h-0.8zM451.6 385.3h0.8v0.8h-0.8zM458.3 386.0h0.8v0.8h-0.8zM449.1 385.5h0.8v0.8h-0.8zM453.6 386.1h0.8v0.8h-0.8zM448.6 386.0h0.8v0.8h-0.8zM452.7 385.9h0.8v0.8h-0.8zM448.9 386.9h0.8v0.8h-0.8zM458.4 386.2h0.8v0.8h-0.8zM448.4 386.6h0.8v0.8h-0.8zM457.6 386.6h0.8v0.8h-0.8zM451.3 386.4h0.8v0.8h-0.8zM448.1 386.9h0.8v0.8h-0.8zM450.9 386.4h0.8v0.8h-0.8zM447.0 386.8h0.8v0.8h-0.8zM454.8 386.8h0.8v0.8h-0.8zM448.1 386.3h0.8v0.8h-0.8zM460.5 386.3h0.8v0.8h-0.8zM449.4 386.6h0.8v0.8h-0.8zM450.6 386.7h0.8v0.8h-0.8zM449.9 386.9h0.8v0.8h-0.8zM447.7 386.1h0.8v0.8h-0.8zM452.2 386.2h0.8v0.8h-0.8zM447.9 387.2h0.8v0.8h-0.8zM457.7 387.6h0.8v0.8h-0.8zM446.9 387.1h0.8v0.8h-0.8zM446.5 387.6h0.8v0.8h-0.8zM448.8 387.4h0.8v0.8h-0.8zM448.6 387.7h0.8v0.8h-0.8zM455.2 387.0h0.8v0.8h-0.8zM446.6 387.0h0.8v0.8h-0.8zM448.1 387.5h0.8v0.8h-0.8zM450.8 387.5h0.8v0.8h-0.8zM449.9 387.1h0.8v0.8h-0.8zM452.3 387.4h0.8v0.8h-0.8zM447.2 387.6h0.8v0.8h-0.8zM450.0 387.3h0.8v0.8h-0.8zM448.2 387.5h0.8v0.8h-0.8zM447.8 387.3h0.8v0.8h-0.8zM449.1 387.3h0.8v0.8h-0.8zM448.2 387.2h0.8v0.8h-0.8zM455.0 387.1h0.8v0.8h-0.8zM450.1 387.6h0.8v0.8h-0.8zM449.7 387.1h0.8v0.8h-0.8zM457.7 387.3h0.8v0.8h-0.8zM451.3 387.4h0.8v0.8h-0.8zM452.0 387.7h0.8v0.8h-0.8zM453.8 386.9h0.8v0.8h-0.8zM446.8 387.5h0.8v0.8h-0.8zM454.5 388.1h0.8v0.8h-0.8zM449.6 388.4h0.8v0.8h-0.8zM447.4 387.7h0.8v0.8h-0.8zM453.0 387.9h0.8v0.8h-0.8zM456.8 388.5h0.8v0.8h-0.8zM449.7 388.1h0.8v0.8h-0.8zM453.3 388.5h0.8v0.8h-0.8zM451.1 388.0h0.8v0.8h-0.8zM456.6 388.0h0.8v0.8h-0.8zM446.1 387.9h0.8v0.8h-0.8zM449.9 388.5h0.8v0.8h-0.8zM448.4 388.1h0.8v0.8h-0.8zM447.0 387.8h0.8v0.8h-0.8zM447.7 387.9h0.8v0.8h-0.8zM454.2 387.9h0.8v0.8h-0.8zM455.1 388.3h0.8v0.8h-0.8zM450.1 388.0h0.8v0.8h-0.8zM446.9 389.0h0.8v0.8h-0.8zM458.6 388.9h0.8v0.8h-0.8zM449.5 389.3h0.8v0.8h-0.8zM449.1 389.3h0.8v0.8h-0.8zM447.8 388.7h0.8v0.8h-0.8zM450.0 388.6h0.8v0.8h-0.8zM447.0 389.3h0.8v0.8h-0.8zM448.6 388.5h0.8v0.8h-0.8zM450.6 389.2h0.8v0.8h-0.8zM448.9 388.9h0.8v0.8h-0.8zM446.9 388.6h0.8v0.8h-0.8zM457.0 388.7h0.8v0.8h-0.8zM450.9 388.9h0.8v0.8h-0.8zM449.9 388.6h0.8v0.8h-0.8zM448.4 389.0h0.8v0.8h-0.8zM454.8 388.6h0.8v0.8h-0.8zM447.3 388.7h0.8v0.8h-0.8zM447.0 389.8h0.8v0.8h-0.8zM447.7 389.8h0.8v0.8h-0.8zM447.2 389.5h0.8v0.8h-0.8zM449.7 389.7h0.8v0.8h-0.8zM457.3 389.9h0.8v0.8h-0.8zM449.1 389.8h0.8v0.8h-0.8zM449.7 389.5h0.8v0.8h-0.8zM446.3 389.4h0.8v0.8h-0.8zM446.2 389.4h0.8v0.8h-0.8zM453.0 389.4h0.8v0.8h-0.8zM447.2 389.6h0.8v0.8h-0.8zM453.4 389.8h0.8v0.8h-0.8zM449.1 389.7h0.8v0.8h-0.8zM451.5 390.0h0.8v0.8h-0.8zM447.2 389.8h0.8v0.8h-0.8zM450.0 390.1h0.8v0.8h-0.8zM450.4 389.9h0.8v0.8h-0.8zM446.8 389.4h0.8v0.8h-0.8zM447.6 389.4h0.8v0.8h-0.8zM448.1 390.0h0.8v0.8h-0.8zM448.2 389.9h0.8v0.8h-0.8zM452.4 389.4h0.8v0.8h-0.8zM447.4 389.9h0.8v0.8h-0.8zM450.8 390.3h0.8v0.8h-0.8zM450.5 390.7h0.8v0.8h-0.8zM450.8 390.4h0.8v0.8h-0.8zM454.7 390.7h0.8v0.8h-0.8zM449.6 390.4h0.8v0.8h-0.8zM451.0 390.2h0.8v0.8h-0.8zM445.9 390.5h0.8v0.8h-0.8zM452.7 390.7h0.8v0.8h-0.8zM448.7 390.3h0.8v0.8h-0.8zM446.8 390.1h0.8v0.8h-0.8zM446.3 390.7h0.8v0.8h-0.8zM448.4 390.4h0.8v0.8h-0.8zM454.7 390.6h0.8v0.8h-0.8zM448.6 390.4h0.8v0.8h-0.8zM445.7 390.4h0.8v0.8h-0.8z" fill="#1a1a1a"/>
<line x1="474.1" y1="347.1" x2="478.3" y2="342.9" stroke="#555" stroke-width="1.1" stroke-linecap="round" opacity="0.6"/>
<path d="M436.0 373.5h0.7v0.7h-0.7zM463.6 354.5h0.7v0.7h-0.7zM437.4 372.2h0.7v0.7h-0.7zM461.9 356.2h0.7v0.7h-0.7zM464.4 354.9h0.7v0.7h-0.7zM451.3 364.3h0.7v0.7h-0.7zM438.4 371.6h0.7v0.7h-0.7zM443.0 369.8h0.7v0.7h-0.7zM466.9 350.8h0.7v0.7h-0.7zM471.5 347.4h0.7v0.7h-0.7zM474.0 344.9h0.7v0.7h-0.7zM456.9 359.3h0.7v0.7h-0.7zM435.4 373.8h0.7v0.7h-0.7zM473.9 346.2h0.7v0.7h-0.7zM443.7 370.5h0.7v0.7h-0.7zM454.6 360.4h0.7v0.7h-0.7zM436.2 371.5h0.7v0.7h-0.7zM466.0 350.8h0.7v0.7h-0.7zM471.4 347.9h0.7v0.7h-0.7zM474.0 345.3h0.7v0.7h-0.7zM461.9 356.4h0.7v0.7h-0.7zM461.1 356.2h0.7v0.7h-0.7zM440.1 371.3h0.7v0.7h-0.7zM470.6 348.7h0.7v0.7h-0.7zM456.2 361.3h0.7v0.7h-0.7zM474.5 345.7h0.7v0.7h-0.7zM435.6 372.6h0.7v0.7h-0.7zM443.7 369.6h0.7v0.7h-0.7zM434.3 372.6h0.7v0.7h-0.7zM432.7 373.2h0.7v0.7h-0.7zM446.2 367.7h0.7v0.7h-0.7zM465.4 352.6h0.7v0.7h-0.7zM448.2 367.7h0.7v0.7h-0.7zM439.8 370.7h0.7v0.7h-0.7zM449.5 364.2h0.7v0.7h-0.7zM430.0 373.3h0.7v0.7h-0.7zM456.7 359.3h0.7v0.7h-0.7zM443.4 369.4h0.7v0.7h-0.7zM452.3 363.1h0.7v0.7h-0.7zM442.3 371.3h0.7v0.7h-0.7z" fill="#777"/>
<text x="489.2" y="371.1" font-size="10.6" font-weight="bold" font-style="normal" text-anchor="end" fill="#111" stroke="#111" stroke-width="0.3" textLength="17.1" lengthAdjust="spacingAndGlyphs" >509</text>
<rect x="335.4" y="403.8" width="89.40000000000003" height="82.19999999999999" fill="#fff" stroke="#808080" stroke-width="1.2"/>
<text x="339.7" y="418.3" font-size="11.2" font-weight="bold" font-style="normal" text-anchor="start" fill="#111" stroke="#111" stroke-width="0.3" textLength="33.3" lengthAdjust="spacingAndGlyphs" >cAMP</text>
<polyline points="360.2,486 360.2,470 381.8,446.2 397.5,446.2 397.5,486" fill="none" stroke="#6a6a6a" stroke-width="1"/>
<polygon points="336.0,485.4 336.0,473.4 344.6,469.1 354.2,462.8 363.8,455.6 373.5,446.9 380.2,441.2 383.0,438.8 375.4,448.8 368.7,455.5 364.8,461.3 362.9,468.0 361.0,473.9 359.0,480.6 358.1,485.4" fill="#050505" stroke="#050505" stroke-width="0.6" stroke-linejoin="round" filter="url(#soft)"/>
<path d="M368.2 456.9h0.8v0.8h-0.8zM367.6 457.1h0.8v0.8h-0.8zM367.3 457.5h0.8v0.8h-0.8zM367.1 457.6h0.8v0.8h-0.8zM367.4 457.4h0.8v0.8h-0.8zM367.9 457.4h0.8v0.8h-0.8zM366.9 458.2h0.8v0.8h-0.8zM366.5 458.7h0.8v0.8h-0.8zM367.9 458.4h0.8v0.8h-0.8zM366.2 458.8h0.8v0.8h-0.8zM368.0 458.5h0.8v0.8h-0.8zM366.0 459.6h0.8v0.8h-0.8zM366.9 459.5h0.8v0.8h-0.8zM365.6 460.2h0.8v0.8h-0.8zM365.9 460.2h0.8v0.8h-0.8zM365.1 460.1h0.8v0.8h-0.8zM366.5 460.1h0.8v0.8h-0.8zM366.3 460.7h0.8v0.8h-0.8zM364.8 461.3h0.8v0.8h-0.8zM367.5 460.9h0.8v0.8h-0.8zM364.8 460.9h0.8v0.8h-0.8zM365.0 461.2h0.8v0.8h-0.8zM367.6 461.1h0.8v0.8h-0.8zM368.5 461.3h0.8v0.8h-0.8zM364.3 461.8h0.8v0.8h-0.8zM364.2 462.1h0.8v0.8h-0.8zM364.5 461.4h0.8v0.8h-0.8zM365.5 461.6h0.8v0.8h-0.8zM365.5 462.5h0.8v0.8h-0.8zM365.0 462.8h0.8v0.8h-0.8zM365.6 462.9h0.8v0.8h-0.8zM366.0 462.3h0.8v0.8h-0.8zM367.6 462.8h0.8v0.8h-0.8zM367.1 462.9h0.8v0.8h-0.8zM365.2 463.7h0.8v0.8h-0.8zM365.4 463.1h0.8v0.8h-0.8zM368.2 463.6h0.8v0.8h-0.8zM364.4 463.6h0.8v0.8h-0.8zM364.8 463.3h0.8v0.8h-0.8zM364.2 463.1h0.8v0.8h-0.8zM368.2 463.2h0.8v0.8h-0.8zM363.7 464.0h0.8v0.8h-0.8zM368.5 464.1h0.8v0.8h-0.8zM365.6 464.4h0.8v0.8h-0.8zM365.0 464.0h0.8v0.8h-0.8zM365.3 464.2h0.8v0.8h-0.8zM366.2 464.3h0.8v0.8h-0.8zM367.2 465.0h0.8v0.8h-0.8zM363.4 465.3h0.8v0.8h-0.8zM368.8 465.4h0.8v0.8h-0.8zM364.9 464.9h0.8v0.8h-0.8zM366.0 464.7h0.8v0.8h-0.8zM366.4 464.9h0.8v0.8h-0.8zM366.5 465.7h0.8v0.8h-0.8zM364.7 465.5h0.8v0.8h-0.8zM363.4 465.9h0.8v0.8h-0.8zM365.5 465.8h0.8v0.8h-0.8zM363.4 465.4h0.8v0.8h-0.8zM365.3 465.6h0.8v0.8h-0.8zM364.5 466.1h0.8v0.8h-0.8zM368.2 465.7h0.8v0.8h-0.8zM362.9 466.9h0.8v0.8h-0.8zM365.4 466.8h0.8v0.8h-0.8zM370.3 466.6h0.8v0.8h-0.8zM365.5 466.8h0.8v0.8h-0.8zM367.0 466.8h0.8v0.8h-0.8zM364.7 466.2h0.8v0.8h-0.8zM365.4 466.3h0.8v0.8h-0.8zM367.7 466.8h0.8v0.8h-0.8zM363.8 466.3h0.8v0.8h-0.8zM363.4 467.4h0.8v0.8h-0.8zM362.7 467.3h0.8v0.8h-0.8zM364.3 467.7h0.8v0.8h-0.8zM362.8 467.2h0.8v0.8h-0.8zM362.7 467.2h0.8v0.8h-0.8zM364.5 467.3h0.8v0.8h-0.8zM363.6 467.2h0.8v0.8h-0.8zM365.3 467.6h0.8v0.8h-0.8zM365.5 467.7h0.8v0.8h-0.8zM368.0 467.7h0.8v0.8h-0.8zM369.0 468.0h0.8v0.8h-0.8zM363.4 468.2h0.8v0.8h-0.8zM363.2 468.5h0.8v0.8h-0.8zM363.5 468.4h0.8v0.8h-0.8zM365.5 468.6h0.8v0.8h-0.8zM368.0 468.6h0.8v0.8h-0.8zM363.3 468.4h0.8v0.8h-0.8zM362.6 467.9h0.8v0.8h-0.8zM363.1 468.4h0.8v0.8h-0.8zM368.0 468.5h0.8v0.8h-0.8zM364.7 468.7h0.8v0.8h-0.8zM364.1 469.3h0.8v0.8h-0.8zM363.4 469.4h0.8v0.8h-0.8zM362.1 468.6h0.8v0.8h-0.8zM369.2 469.2h0.8v0.8h-0.8zM363.5 469.2h0.8v0.8h-0.8zM366.2 468.8h0.8v0.8h-0.8zM362.2 468.9h0.8v0.8h-0.8zM363.3 468.6h0.8v0.8h-0.8zM364.1 469.1h0.8v0.8h-0.8zM363.2 468.7h0.8v0.8h-0.8zM367.6 469.7h0.8v0.8h-0.8zM365.8 469.7h0.8v0.8h-0.8zM362.0 469.7h0.8v0.8h-0.8zM365.6 469.4h0.8v0.8h-0.8zM364.7 469.7h0.8v0.8h-0.8zM365.8 470.0h0.8v0.8h-0.8zM363.0 470.2h0.8v0.8h-0.8zM363.3 470.0h0.8v0.8h-0.8zM362.5 469.9h0.8v0.8h-0.8zM362.8 469.7h0.8v0.8h-0.8zM364.0 470.7h0.8v0.8h-0.8zM365.0 470.9h0.8v0.8h-0.8zM368.0 470.5h0.8v0.8h-0.8zM365.2 470.3h0.8v0.8h-0.8zM367.5 470.4h0.8v0.8h-0.8zM367.0 470.7h0.8v0.8h-0.8zM363.2 470.6h0.8v0.8h-0.8zM363.6 470.4h0.8v0.8h-0.8zM365.1 470.8h0.8v0.8h-0.8zM364.4 470.9h0.8v0.8h-0.8zM363.7 470.5h0.8v0.8h-0.8zM361.6 470.5h0.8v0.8h-0.8zM362.3 470.4h0.8v0.8h-0.8zM364.9 471.2h0.8v0.8h-0.8zM364.4 471.6h0.8v0.8h-0.8zM362.5 471.1h0.8v0.8h-0.8zM364.1 471.7h0.8v0.8h-0.8zM362.6 471.3h0.8v0.8h-0.8zM362.4 471.6h0.8v0.8h-0.8zM364.3 471.8h0.8v0.8h-0.8zM361.8 471.3h0.8v0.8h-0.8zM363.3 471.7h0.8v0.8h-0.8zM364.0 471.5h0.8v0.8h-0.8zM362.5 471.2h0.8v0.8h-0.8zM361.8 471.0h0.8v0.8h-0.8zM364.8 471.5h0.8v0.8h-0.8zM368.8 471.5h0.8v0.8h-0.8zM362.8 472.1h0.8v0.8h-0.8zM362.6 472.1h0.8v0.8h-0.8zM362.5 472.2h0.8v0.8h-0.8zM362.4 471.9h0.8v0.8h-0.8zM362.2 472.4h0.8v0.8h-0.8zM364.6 472.4h0.8v0.8h-0.8zM364.9 472.5h0.8v0.8h-0.8zM364.9 472.2h0.8v0.8h-0.8zM365.2 472.5h0.8v0.8h-0.8zM362.0 472.6h0.8v0.8h-0.8zM361.5 472.2h0.8v0.8h-0.8zM362.2 472.3h0.8v0.8h-0.8zM361.4 472.8h0.8v0.8h-0.8zM362.6 473.3h0.8v0.8h-0.8zM366.4 473.4h0.8v0.8h-0.8zM360.9 473.2h0.8v0.8h-0.8zM362.5 473.2h0.8v0.8h-0.8zM361.3 472.7h0.8v0.8h-0.8zM363.8 472.7h0.8v0.8h-0.8zM362.2 472.7h0.8v0.8h-0.8zM363.4 472.6h0.8v0.8h-0.8zM364.0 473.0h0.8v0.8h-0.8zM364.0 473.8h0.8v0.8h-0.8zM368.0 474.1h0.8v0.8h-0.8zM362.7 474.0h0.8v0.8h-0.8zM360.6 473.7h0.8v0.8h-0.8zM367.7 474.1h0.8v0.8h-0.8zM364.5 473.5h0.8v0.8h-0.8zM361.8 474.2h0.8v0.8h-0.8zM363.6 474.2h0.8v0.8h-0.8zM363.7 473.7h0.8v0.8h-0.8zM360.8 474.2h0.8v0.8h-0.8zM363.6 473.9h0.8v0.8h-0.8zM368.4 474.1h0.8v0.8h-0.8zM361.4 473.7h0.8v0.8h-0.8zM362.3 474.2h0.8v0.8h-0.8zM363.9 474.2h0.8v0.8h-0.8zM360.6 474.7h0.8v0.8h-0.8zM365.8 474.5h0.8v0.8h-0.8zM360.3 474.8h0.8v0.8h-0.8zM361.9 474.8h0.8v0.8h-0.8zM362.5 474.8h0.8v0.8h-0.8zM360.5 474.4h0.8v0.8h-0.8zM362.9 474.8h0.8v0.8h-0.8zM361.6 474.6h0.8v0.8h-0.8zM364.2 474.3h0.8v0.8h-0.8zM362.6 474.7h0.8v0.8h-0.8zM361.6 474.7h0.8v0.8h-0.8zM364.9 474.7h0.8v0.8h-0.8zM362.6 474.6h0.8v0.8h-0.8zM363.1 474.8h0.8v0.8h-0.8zM362.8 475.0h0.8v0.8h-0.8zM361.1 474.6h0.8v0.8h-0.8zM360.1 475.0h0.8v0.8h-0.8zM365.6 475.4h0.8v0.8h-0.8zM360.1 475.3h0.8v0.8h-0.8zM360.5 475.5h0.8v0.8h-0.8zM361.9 475.7h0.8v0.8h-0.8zM364.1 475.7h0.8v0.8h-0.8zM366.9 475.3h0.8v0.8h-0.8zM364.5 475.8h0.8v0.8h-0.8zM360.1 475.1h0.8v0.8h-0.8zM361.6 475.1h0.8v0.8h-0.8zM366.7 475.7h0.8v0.8h-0.8zM361.6 475.0h0.8v0.8h-0.8zM364.2 475.8h0.8v0.8h-0.8zM360.8 475.1h0.8v0.8h-0.8zM360.8 476.0h0.8v0.8h-0.8zM361.4 476.4h0.8v0.8h-0.8zM362.8 476.1h0.8v0.8h-0.8zM363.4 476.5h0.8v0.8h-0.8zM362.1 476.2h0.8v0.8h-0.8zM360.6 476.2h0.8v0.8h-0.8zM364.6 476.6h0.8v0.8h-0.8zM361.3 476.3h0.8v0.8h-0.8zM361.5 476.2h0.8v0.8h-0.8zM359.9 476.1h0.8v0.8h-0.8zM362.5 476.0h0.8v0.8h-0.8zM363.0 476.1h0.8v0.8h-0.8zM364.5 475.8h0.8v0.8h-0.8zM366.3 476.0h0.8v0.8h-0.8zM361.4 476.3h0.8v0.8h-0.8zM360.7 476.5h0.8v0.8h-0.8zM360.6 476.7h0.8v0.8h-0.8zM364.3 477.3h0.8v0.8h-0.8zM363.1 477.1h0.8v0.8h-0.8zM362.7 476.7h0.8v0.8h-0.8zM361.4 477.1h0.8v0.8h-0.8zM362.4 476.7h0.8v0.8h-0.8zM362.8 476.7h0.8v0.8h-0.8zM368.4 476.8h0.8v0.8h-0.8zM359.9 477.1h0.8v0.8h-0.8zM367.7 477.2h0.8v0.8h-0.8zM362.8 477.0h0.8v0.8h-0.8zM364.9 477.0h0.8v0.8h-0.8zM364.4 477.0h0.8v0.8h-0.8zM361.0 476.7h0.8v0.8h-0.8zM361.9 476.9h0.8v0.8h-0.8zM364.8 476.6h0.8v0.8h-0.8zM363.2 477.7h0.8v0.8h-0.8zM370.4 477.5h0.8v0.8h-0.8zM362.2 477.7h0.8v0.8h-0.8zM364.0 478.2h0.8v0.8h-0.8zM360.3 477.7h0.8v0.8h-0.8zM362.4 477.8h0.8v0.8h-0.8zM360.4 478.0h0.8v0.8h-0.8zM366.0 477.5h0.8v0.8h-0.8zM366.2 477.5h0.8v0.8h-0.8zM360.8 478.1h0.8v0.8h-0.8zM360.0 477.5h0.8v0.8h-0.8zM362.7 477.8h0.8v0.8h-0.8zM365.8 478.0h0.8v0.8h-0.8zM360.3 477.8h0.8v0.8h-0.8zM360.6 478.6h0.8v0.8h-0.8zM359.3 478.3h0.8v0.8h-0.8zM359.8 478.3h0.8v0.8h-0.8zM359.6 478.6h0.8v0.8h-0.8zM360.5 478.6h0.8v0.8h-0.8zM368.9 478.3h0.8v0.8h-0.8zM359.8 478.7h0.8v0.8h-0.8zM367.6 478.4h0.8v0.8h-0.8zM360.9 478.7h0.8v0.8h-0.8zM371.3 478.2h0.8v0.8h-0.8zM367.7 478.7h0.8v0.8h-0.8zM366.4 478.4h0.8v0.8h-0.8zM368.4 478.3h0.8v0.8h-0.8zM362.5 478.9h0.8v0.8h-0.8zM364.3 478.7h0.8v0.8h-0.8zM361.7 478.5h0.8v0.8h-0.8zM359.4 478.5h0.8v0.8h-0.8zM363.1 479.4h0.8v0.8h-0.8zM366.6 479.6h0.8v0.8h-0.8zM362.5 479.5h0.8v0.8h-0.8zM359.2 479.5h0.8v0.8h-0.8zM363.8 479.5h0.8v0.8h-0.8zM361.2 479.6h0.8v0.8h-0.8zM360.4 479.2h0.8v0.8h-0.8zM359.3 479.5h0.8v0.8h-0.8zM366.4 479.4h0.8v0.8h-0.8zM358.9 479.2h0.8v0.8h-0.8zM369.9 479.0h0.8v0.8h-0.8zM359.4 479.7h0.8v0.8h-0.8zM367.6 479.1h0.8v0.8h-0.8zM361.3 479.7h0.8v0.8h-0.8zM363.8 479.7h0.8v0.8h-0.8zM369.1 479.1h0.8v0.8h-0.8zM360.4 479.1h0.8v0.8h-0.8zM363.7 479.4h0.8v0.8h-0.8zM359.5 479.5h0.8v0.8h-0.8zM366.0 479.6h0.8v0.8h-0.8zM365.5 480.1h0.8v0.8h-0.8zM361.0 480.3h0.8v0.8h-0.8zM359.6 480.6h0.8v0.8h-0.8zM363.2 480.2h0.8v0.8h-0.8zM359.3 480.3h0.8v0.8h-0.8zM366.4 480.4h0.8v0.8h-0.8zM360.5 480.5h0.8v0.8h-0.8zM359.0 479.8h0.8v0.8h-0.8zM368.3 480.5h0.8v0.8h-0.8zM362.4 480.1h0.8v0.8h-0.8zM359.7 480.3h0.8v0.8h-0.8zM362.5 480.3h0.8v0.8h-0.8zM362.7 479.9h0.8v0.8h-0.8zM364.0 480.2h0.8v0.8h-0.8zM364.0 480.5h0.8v0.8h-0.8zM359.4 480.5h0.8v0.8h-0.8zM358.6 481.1h0.8v0.8h-0.8zM368.4 480.7h0.8v0.8h-0.8zM361.4 480.6h0.8v0.8h-0.8zM361.1 480.9h0.8v0.8h-0.8zM359.3 480.9h0.8v0.8h-0.8zM363.9 481.3h0.8v0.8h-0.8zM360.6 481.0h0.8v0.8h-0.8zM359.1 480.7h0.8v0.8h-0.8zM362.4 481.2h0.8v0.8h-0.8zM361.3 481.0h0.8v0.8h-0.8zM359.0 480.9h0.8v0.8h-0.8zM365.0 481.0h0.8v0.8h-0.8zM362.9 481.0h0.8v0.8h-0.8zM365.0 480.7h0.8v0.8h-0.8zM360.7 480.7h0.8v0.8h-0.8zM362.2 480.7h0.8v0.8h-0.8zM365.1 481.7h0.8v0.8h-0.8zM368.2 482.0h0.8v0.8h-0.8zM362.2 481.5h0.8v0.8h-0.8zM371.3 481.5h0.8v0.8h-0.8zM360.5 481.6h0.8v0.8h-0.8zM361.5 481.8h0.8v0.8h-0.8zM363.3 481.8h0.8v0.8h-0.8zM361.4 481.6h0.8v0.8h-0.8zM368.1 481.5h0.8v0.8h-0.8zM360.0 482.2h0.8v0.8h-0.8zM358.9 481.9h0.8v0.8h-0.8zM363.7 481.5h0.8v0.8h-0.8zM366.9 481.4h0.8v0.8h-0.8zM367.1 481.4h0.8v0.8h-0.8zM360.8 481.9h0.8v0.8h-0.8zM366.4 482.2h0.8v0.8h-0.8zM358.9 481.8h0.8v0.8h-0.8zM361.6 481.5h0.8v0.8h-0.8zM367.3 482.0h0.8v0.8h-0.8zM360.9 482.7h0.8v0.8h-0.8zM358.6 482.6h0.8v0.8h-0.8zM361.7 482.8h0.8v0.8h-0.8zM359.9 482.9h0.8v0.8h-0.8zM363.7 482.3h0.8v0.8h-0.8zM361.1 482.6h0.8v0.8h-0.8zM364.3 482.4h0.8v0.8h-0.8zM366.0 483.0h0.8v0.8h-0.8zM362.7 483.0h0.8v0.8h-0.8zM361.4 482.4h0.8v0.8h-0.8zM366.3 482.4h0.8v0.8h-0.8zM366.2 482.4h0.8v0.8h-0.8zM361.8 482.3h0.8v0.8h-0.8zM359.5 482.4h0.8v0.8h-0.8zM360.9 483.6h0.8v0.8h-0.8zM371.1 483.3h0.8v0.8h-0.8zM362.6 483.7h0.8v0.8h-0.8zM358.5 483.1h0.8v0.8h-0.8zM370.2 483.1h0.8v0.8h-0.8zM363.8 483.4h0.8v0.8h-0.8zM360.7 483.2h0.8v0.8h-0.8zM361.2 483.3h0.8v0.8h-0.8zM360.2 483.6h0.8v0.8h-0.8zM358.2 483.4h0.8v0.8h-0.8zM370.1 483.4h0.8v0.8h-0.8zM362.2 483.2h0.8v0.8h-0.8zM362.3 483.0h0.8v0.8h-0.8zM359.8 483.4h0.8v0.8h-0.8zM359.2 483.7h0.8v0.8h-0.8zM359.1 483.2h0.8v0.8h-0.8zM366.2 484.0h0.8v0.8h-0.8zM368.8 484.2h0.8v0.8h-0.8zM365.5 484.0h0.8v0.8h-0.8zM371.4 484.4h0.8v0.8h-0.8zM364.0 484.6h0.8v0.8h-0.8zM359.6 484.0h0.8v0.8h-0.8zM366.5 484.5h0.8v0.8h-0.8zM359.9 484.4h0.8v0.8h-0.8zM367.1 484.0h0.8v0.8h-0.8zM365.7 483.8h0.8v0.8h-0.8zM365.3 484.5h0.8v0.8h-0.8zM360.0 484.4h0.8v0.8h-0.8zM362.9 484.1h0.8v0.8h-0.8zM359.6 484.4h0.8v0.8h-0.8zM358.9 484.0h0.8v0.8h-0.8zM362.5 483.9h0.8v0.8h-0.8zM358.8 485.0h0.8v0.8h-0.8zM357.9 485.0h0.8v0.8h-0.8zM359.7 484.7h0.8v0.8h-0.8zM359.7 485.2h0.8v0.8h-0.8zM370.4 484.7h0.8v0.8h-0.8zM368.6 485.1h0.8v0.8h-0.8zM365.7 485.3h0.8v0.8h-0.8zM368.1 485.3h0.8v0.8h-0.8zM362.4 484.8h0.8v0.8h-0.8zM357.8 485.3h0.8v0.8h-0.8zM359.7 484.9h0.8v0.8h-0.8zM360.4 485.4h0.8v0.8h-0.8zM364.7 485.0h0.8v0.8h-0.8zM360.6 484.6h0.8v0.8h-0.8zM361.1 484.7h0.8v0.8h-0.8zM365.7 485.1h0.8v0.8h-0.8zM364.6 485.1h0.8v0.8h-0.8zM363.2 485.3h0.8v0.8h-0.8zM362.6 485.2h0.8v0.8h-0.8z" fill="#1a1a1a"/>
<line x1="382.0" y1="439.8" x2="386.2" y2="435.6" stroke="#555" stroke-width="1.1" stroke-linecap="round" opacity="0.6"/>
<path d="M353.0 461.5h0.7v0.7h-0.7zM375.7 442.0h0.7v0.7h-0.7zM362.8 455.9h0.7v0.7h-0.7zM340.3 470.8h0.7v0.7h-0.7zM378.8 440.2h0.7v0.7h-0.7zM354.8 460.9h0.7v0.7h-0.7zM365.9 452.6h0.7v0.7h-0.7zM346.2 467.4h0.7v0.7h-0.7zM358.9 456.7h0.7v0.7h-0.7zM379.3 439.0h0.7v0.7h-0.7zM375.7 442.8h0.7v0.7h-0.7zM379.0 441.6h0.7v0.7h-0.7zM354.4 461.8h0.7v0.7h-0.7zM357.0 458.4h0.7v0.7h-0.7zM363.2 454.3h0.7v0.7h-0.7zM377.6 442.8h0.7v0.7h-0.7zM337.1 472.3h0.7v0.7h-0.7zM336.1 472.2h0.7v0.7h-0.7zM359.0 458.5h0.7v0.7h-0.7zM373.1 445.1h0.7v0.7h-0.7zM344.8 467.9h0.7v0.7h-0.7zM380.7 440.3h0.7v0.7h-0.7zM371.0 448.8h0.7v0.7h-0.7zM347.8 465.4h0.7v0.7h-0.7zM351.1 462.4h0.7v0.7h-0.7zM357.4 458.8h0.7v0.7h-0.7zM381.4 440.0h0.7v0.7h-0.7zM337.1 469.9h0.7v0.7h-0.7zM366.1 451.0h0.7v0.7h-0.7zM341.5 467.7h0.7v0.7h-0.7zM360.1 457.1h0.7v0.7h-0.7zM337.2 470.1h0.7v0.7h-0.7zM375.9 442.5h0.7v0.7h-0.7zM364.0 454.5h0.7v0.7h-0.7zM362.3 453.9h0.7v0.7h-0.7zM361.6 456.1h0.7v0.7h-0.7zM366.1 452.1h0.7v0.7h-0.7zM368.6 450.5h0.7v0.7h-0.7zM359.0 457.8h0.7v0.7h-0.7zM376.9 443.2h0.7v0.7h-0.7zM362.0 455.2h0.7v0.7h-0.7z" fill="#777"/>
<text x="396.6" y="463.9" font-size="10.6" font-weight="bold" font-style="normal" text-anchor="end" fill="#111" stroke="#111" stroke-width="0.3" textLength="22.9" lengthAdjust="spacingAndGlyphs" >1154</text>
<rect x="428.7" y="403.8" width="89.00000000000006" height="82.19999999999999" fill="#fff" stroke="#808080" stroke-width="1.2"/>
<text x="433.0" y="418.3" font-size="11.2" font-weight="bold" font-style="normal" text-anchor="start" fill="#111" stroke="#111" stroke-width="0.3" textLength="65" lengthAdjust="spacingAndGlyphs" >cAMP+PS<tspan font-family="Liberation Serif" font-weight="normal" stroke-width="0.12" font-size="1.15em">ζ</tspan></text>
<polyline points="453.9,486 453.9,470 474.1,446.3 490.5,446.3 490.5,486" fill="none" stroke="#6a6a6a" stroke-width="1"/>
<polygon points="429.4,485.4 429.4,473.4 434.0,471.0 437.8,469.1 442.6,466.2 447.4,463.3 452.2,459.4 457.0,455.6 461.9,451.7 466.7,448.4 471.5,444.5 475.0,441.3 470.5,447.8 464.7,453.1 459.9,458.4 457.0,464.2 455.1,470.0 454.2,475.8 452.2,485.4" fill="#050505" stroke="#050505" stroke-width="0.6" stroke-linejoin="round" filter="url(#soft)"/>
<path d="M458.7 461.3h0.8v0.8h-0.8zM457.7 461.6h0.8v0.8h-0.8zM458.2 462.2h0.8v0.8h-0.8zM458.2 462.3h0.8v0.8h-0.8zM457.3 462.2h0.8v0.8h-0.8zM458.0 462.7h0.8v0.8h-0.8zM457.1 463.1h0.8v0.8h-0.8zM457.6 463.0h0.8v0.8h-0.8zM458.8 463.5h0.8v0.8h-0.8zM457.8 464.3h0.8v0.8h-0.8zM456.5 464.4h0.8v0.8h-0.8zM456.9 464.3h0.8v0.8h-0.8zM456.3 464.7h0.8v0.8h-0.8zM458.5 465.4h0.8v0.8h-0.8zM456.5 465.9h0.8v0.8h-0.8zM456.8 465.6h0.8v0.8h-0.8zM458.3 465.4h0.8v0.8h-0.8zM457.9 466.0h0.8v0.8h-0.8zM456.8 466.8h0.8v0.8h-0.8zM456.3 466.6h0.8v0.8h-0.8zM456.3 467.7h0.8v0.8h-0.8zM456.5 467.4h0.8v0.8h-0.8zM456.1 467.4h0.8v0.8h-0.8zM457.0 467.3h0.8v0.8h-0.8zM456.0 468.5h0.8v0.8h-0.8zM457.9 468.1h0.8v0.8h-0.8zM455.6 468.9h0.8v0.8h-0.8zM455.0 469.0h0.8v0.8h-0.8zM455.2 469.2h0.8v0.8h-0.8zM455.1 469.0h0.8v0.8h-0.8zM456.8 468.9h0.8v0.8h-0.8zM455.2 470.1h0.8v0.8h-0.8zM458.3 470.1h0.8v0.8h-0.8zM457.1 469.6h0.8v0.8h-0.8zM455.5 469.6h0.8v0.8h-0.8zM455.4 469.9h0.8v0.8h-0.8zM456.2 470.4h0.8v0.8h-0.8zM457.0 470.4h0.8v0.8h-0.8zM458.2 470.7h0.8v0.8h-0.8zM455.8 470.4h0.8v0.8h-0.8zM454.5 471.3h0.8v0.8h-0.8zM455.1 471.7h0.8v0.8h-0.8zM454.7 471.5h0.8v0.8h-0.8zM456.8 471.1h0.8v0.8h-0.8zM455.7 472.4h0.8v0.8h-0.8zM456.6 472.5h0.8v0.8h-0.8zM455.1 471.9h0.8v0.8h-0.8zM454.8 472.5h0.8v0.8h-0.8zM455.0 472.5h0.8v0.8h-0.8zM456.0 471.8h0.8v0.8h-0.8zM455.4 472.3h0.8v0.8h-0.8zM454.9 472.8h0.8v0.8h-0.8zM454.7 473.0h0.8v0.8h-0.8zM455.7 473.2h0.8v0.8h-0.8zM457.5 473.0h0.8v0.8h-0.8zM454.4 472.9h0.8v0.8h-0.8zM455.0 473.1h0.8v0.8h-0.8zM456.6 473.0h0.8v0.8h-0.8zM454.1 473.8h0.8v0.8h-0.8zM454.2 473.6h0.8v0.8h-0.8zM454.8 474.0h0.8v0.8h-0.8zM454.3 473.9h0.8v0.8h-0.8zM454.3 473.7h0.8v0.8h-0.8zM456.4 474.1h0.8v0.8h-0.8zM455.8 474.0h0.8v0.8h-0.8zM454.6 474.5h0.8v0.8h-0.8zM453.9 474.9h0.8v0.8h-0.8zM455.3 474.9h0.8v0.8h-0.8zM454.2 475.0h0.8v0.8h-0.8zM455.2 474.8h0.8v0.8h-0.8zM454.9 474.9h0.8v0.8h-0.8zM455.7 475.1h0.8v0.8h-0.8zM455.6 475.1h0.8v0.8h-0.8zM455.4 475.5h0.8v0.8h-0.8zM455.8 475.7h0.8v0.8h-0.8zM456.1 475.0h0.8v0.8h-0.8zM457.3 475.4h0.8v0.8h-0.8zM453.9 475.5h0.8v0.8h-0.8zM457.2 475.7h0.8v0.8h-0.8zM454.8 475.4h0.8v0.8h-0.8zM455.8 476.1h0.8v0.8h-0.8zM455.2 476.2h0.8v0.8h-0.8zM454.7 476.0h0.8v0.8h-0.8zM456.1 476.6h0.8v0.8h-0.8zM454.8 475.9h0.8v0.8h-0.8zM455.4 476.9h0.8v0.8h-0.8zM457.4 477.2h0.8v0.8h-0.8zM458.1 477.0h0.8v0.8h-0.8zM456.0 476.6h0.8v0.8h-0.8zM453.8 476.9h0.8v0.8h-0.8zM454.0 476.6h0.8v0.8h-0.8zM453.9 476.8h0.8v0.8h-0.8zM457.7 477.0h0.8v0.8h-0.8zM459.1 476.8h0.8v0.8h-0.8zM456.4 477.9h0.8v0.8h-0.8zM455.4 478.2h0.8v0.8h-0.8zM455.4 477.7h0.8v0.8h-0.8zM455.1 477.9h0.8v0.8h-0.8zM454.0 478.0h0.8v0.8h-0.8zM454.7 477.4h0.8v0.8h-0.8zM457.6 477.4h0.8v0.8h-0.8zM455.1 477.9h0.8v0.8h-0.8zM453.7 478.8h0.8v0.8h-0.8zM453.3 478.9h0.8v0.8h-0.8zM458.3 478.4h0.8v0.8h-0.8zM457.0 478.2h0.8v0.8h-0.8zM453.5 478.7h0.8v0.8h-0.8zM456.1 478.3h0.8v0.8h-0.8zM455.3 478.9h0.8v0.8h-0.8zM454.2 478.4h0.8v0.8h-0.8zM454.2 479.2h0.8v0.8h-0.8zM456.8 479.2h0.8v0.8h-0.8zM455.5 479.5h0.8v0.8h-0.8zM454.8 479.7h0.8v0.8h-0.8zM453.0 479.6h0.8v0.8h-0.8zM455.4 480.4h0.8v0.8h-0.8zM453.5 479.9h0.8v0.8h-0.8zM455.7 480.4h0.8v0.8h-0.8zM454.8 481.2h0.8v0.8h-0.8zM453.0 481.3h0.8v0.8h-0.8zM457.8 480.8h0.8v0.8h-0.8zM456.3 481.2h0.8v0.8h-0.8zM455.7 480.8h0.8v0.8h-0.8zM453.4 481.0h0.8v0.8h-0.8zM455.8 480.7h0.8v0.8h-0.8zM453.3 481.5h0.8v0.8h-0.8zM455.7 481.5h0.8v0.8h-0.8zM454.2 482.0h0.8v0.8h-0.8zM455.1 482.0h0.8v0.8h-0.8zM457.0 481.8h0.8v0.8h-0.8zM454.8 481.8h0.8v0.8h-0.8zM454.2 481.9h0.8v0.8h-0.8zM455.7 481.6h0.8v0.8h-0.8zM456.2 482.0h0.8v0.8h-0.8zM454.6 482.0h0.8v0.8h-0.8zM453.2 482.3h0.8v0.8h-0.8zM458.1 482.3h0.8v0.8h-0.8zM456.1 482.4h0.8v0.8h-0.8zM454.8 482.4h0.8v0.8h-0.8zM452.5 482.8h0.8v0.8h-0.8zM459.8 482.8h0.8v0.8h-0.8zM453.0 482.6h0.8v0.8h-0.8zM452.9 482.8h0.8v0.8h-0.8zM454.1 482.8h0.8v0.8h-0.8zM456.7 482.4h0.8v0.8h-0.8zM454.6 483.7h0.8v0.8h-0.8zM457.8 483.1h0.8v0.8h-0.8zM453.3 483.7h0.8v0.8h-0.8zM453.7 483.1h0.8v0.8h-0.8zM452.8 483.5h0.8v0.8h-0.8zM457.1 483.5h0.8v0.8h-0.8zM452.1 483.2h0.8v0.8h-0.8zM456.8 483.4h0.8v0.8h-0.8zM454.6 483.8h0.8v0.8h-0.8zM452.6 483.3h0.8v0.8h-0.8zM454.8 483.0h0.8v0.8h-0.8zM452.8 483.5h0.8v0.8h-0.8zM457.2 484.2h0.8v0.8h-0.8zM453.1 484.2h0.8v0.8h-0.8zM452.3 483.9h0.8v0.8h-0.8zM455.2 484.3h0.8v0.8h-0.8zM454.0 484.5h0.8v0.8h-0.8zM453.2 484.0h0.8v0.8h-0.8zM452.2 484.5h0.8v0.8h-0.8zM455.6 484.5h0.8v0.8h-0.8zM455.1 485.0h0.8v0.8h-0.8zM454.0 485.4h0.8v0.8h-0.8zM457.5 484.8h0.8v0.8h-0.8zM453.0 485.4h0.8v0.8h-0.8zM453.4 485.2h0.8v0.8h-0.8zM453.0 485.1h0.8v0.8h-0.8zM454.1 485.3h0.8v0.8h-0.8zM451.9 484.9h0.8v0.8h-0.8zM453.9 484.7h0.8v0.8h-0.8zM453.2 485.4h0.8v0.8h-0.8zM451.8 484.7h0.8v0.8h-0.8z" fill="#1a1a1a"/>
<line x1="474.0" y1="442.3" x2="478.2" y2="438.1" stroke="#555" stroke-width="1.1" stroke-linecap="round" opacity="0.6"/>
<path d="M445.6 462.1h0.7v0.7h-0.7zM435.3 468.0h0.7v0.7h-0.7zM456.0 454.0h0.7v0.7h-0.7zM433.0 471.4h0.7v0.7h-0.7zM430.5 472.1h0.7v0.7h-0.7zM467.8 446.9h0.7v0.7h-0.7zM464.3 447.5h0.7v0.7h-0.7zM432.5 470.2h0.7v0.7h-0.7zM432.7 468.9h0.7v0.7h-0.7zM464.2 448.2h0.7v0.7h-0.7zM465.6 448.3h0.7v0.7h-0.7zM434.2 469.0h0.7v0.7h-0.7zM467.4 447.3h0.7v0.7h-0.7zM442.4 465.2h0.7v0.7h-0.7zM462.0 448.9h0.7v0.7h-0.7zM445.0 462.2h0.7v0.7h-0.7zM457.4 452.7h0.7v0.7h-0.7zM431.3 470.9h0.7v0.7h-0.7zM450.6 458.3h0.7v0.7h-0.7zM456.8 453.5h0.7v0.7h-0.7zM465.2 447.0h0.7v0.7h-0.7zM460.2 451.9h0.7v0.7h-0.7zM471.9 442.9h0.7v0.7h-0.7zM474.5 440.7h0.7v0.7h-0.7zM473.6 442.5h0.7v0.7h-0.7zM468.2 446.2h0.7v0.7h-0.7zM474.5 439.5h0.7v0.7h-0.7zM469.7 445.2h0.7v0.7h-0.7zM445.7 463.8h0.7v0.7h-0.7zM465.7 446.2h0.7v0.7h-0.7zM440.7 466.1h0.7v0.7h-0.7zM436.6 468.3h0.7v0.7h-0.7zM433.9 468.2h0.7v0.7h-0.7zM452.0 456.7h0.7v0.7h-0.7zM450.6 459.4h0.7v0.7h-0.7zM438.7 468.3h0.7v0.7h-0.7zM441.3 464.8h0.7v0.7h-0.7zM454.2 456.6h0.7v0.7h-0.7zM451.2 459.3h0.7v0.7h-0.7zM471.1 443.7h0.7v0.7h-0.7z" fill="#777"/>
<text x="488.9" y="463.9" font-size="10.6" font-weight="bold" font-style="normal" text-anchor="end" fill="#111" stroke="#111" stroke-width="0.3" textLength="16.8" lengthAdjust="spacingAndGlyphs" >474</text>
<line x1="335.5" y1="496" x2="393" y2="496" stroke="#222" stroke-width="1.3"/>
<line x1="460" y1="496" x2="508" y2="496" stroke="#222" stroke-width="1.3"/>
<polygon points="517,496 506,491.8 506,500.2" fill="#111"/>
<text x="394.2" y="500" font-size="10.8" font-weight="bold" font-style="normal" text-anchor="start" fill="#111" stroke="#111" stroke-width="0.3" textLength="65.5" lengthAdjust="spacingAndGlyphs" >human CD45</text>
</svg>
</body></html>
